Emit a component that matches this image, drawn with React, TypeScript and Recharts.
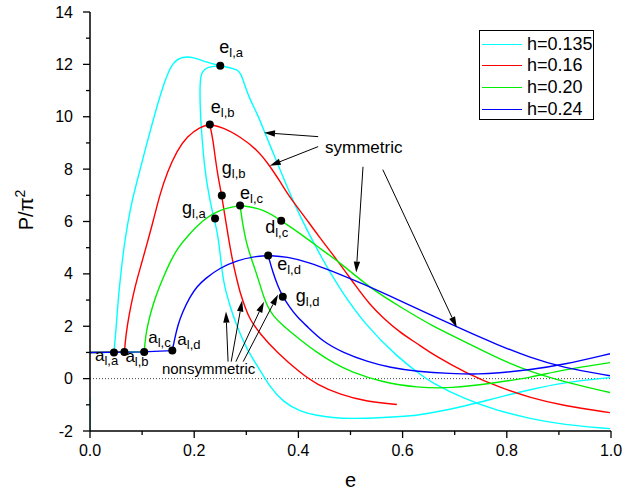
import React from "react";
import { ComposedChart, Line, XAxis, YAxis, ReferenceLine, ReferenceDot } from "recharts";

type Pt = [number, number];

// h = 0.135
const cyanFlat: Pt[] = [[0, 1.0], [0.046, 1.0]];
const cyanRise: Pt[] = [
  [0.046, 1.0], [0.05, 1.87], [0.054, 3.02], [0.06, 4.16], [0.067, 5.31], [0.077, 6.45],
  [0.086, 7.22], [0.106, 8.74], [0.125, 10.16], [0.144, 11.42], [0.159, 12.1], [0.178, 12.3],
  [0.198, 12.28], [0.225, 12.07], [0.25, 11.95],
];
const cyanSym: Pt[] = [
  [0.25, 11.95], [0.269, 11.87], [0.282, 11.8], [0.29, 11.65], [0.296, 11.26], [0.307, 10.65],
  [0.321, 10.12], [0.334, 9.47], [0.349, 8.74], [0.365, 7.98], [0.378, 7.33], [0.403, 6.19],
  [0.441, 4.73], [0.48, 3.4], [0.528, 2.06], [0.589, 0.84], [0.639, 0.08], [0.653, -0.11],
  [0.716, -0.76], [0.781, -1.22], [0.845, -1.53], [0.908, -1.76], [0.998, -1.91],
];
const cyanNonsym: Pt[] = [
  [0.25, 11.95], [0.225, 11.91], [0.215, 11.72], [0.211, 11.42], [0.211, 10.39], [0.215, 9.13],
  [0.221, 7.87], [0.228, 7.03], [0.236, 6.26], [0.246, 5.5], [0.253, 4.16], [0.257, 3.67],
  [0.261, 3.32], [0.269, 2.75], [0.282, 1.99], [0.301, 1.11], [0.326, 0.34], [0.345, -0.31],
  [0.37, -0.88], [0.403, -1.26], [0.436, -1.41], [0.466, -1.49], [0.499, -1.53], [0.562, -1.49],
  [0.628, -1.41], [0.653, -1.31], [0.716, -1.07], [0.781, -0.73], [0.845, -0.42], [0.908, -0.15],
  [0.998, 0.04],
];
const cyanEdge: Pt[] = [[0, -0.7], [0, -2]];

// h = 0.16
const redFlat: Pt[] = [[0, 1.0], [0.066, 1.02]];
const redRise: Pt[] = [
  [0.066, 1.02], [0.069, 1.68], [0.075, 2.44], [0.083, 3.21], [0.09, 3.78], [0.1, 4.47],
  [0.109, 5.12], [0.121, 5.99], [0.134, 7.03], [0.148, 7.87], [0.167, 8.71], [0.186, 9.24],
  [0.211, 9.62], [0.23, 9.7],
];
const redSym: Pt[] = [
  [0.23, 9.7], [0.255, 9.6], [0.288, 9.24], [0.321, 8.74], [0.345, 8.13], [0.365, 7.52],
  [0.384, 6.91], [0.409, 6.26], [0.441, 5.38], [0.474, 4.54], [0.511, 3.51], [0.537, 2.83],
  [0.562, 2.33], [0.595, 1.76], [0.628, 1.34], [0.658, 0.92], [0.724, 0.19], [0.787, -0.34],
  [0.845, -0.73], [0.908, -1.03], [0.998, -1.3],
];
const redNonsym: Pt[] = [
  [0.23, 9.7], [0.236, 9.13], [0.24, 8.48], [0.246, 7.67], [0.253, 6.99], [0.263, 5.69],
  [0.274, 4.43], [0.282, 3.78], [0.288, 3.28], [0.298, 2.71], [0.307, 2.25], [0.326, 1.72],
  [0.359, 0.99], [0.403, 0.23], [0.436, -0.23], [0.48, -0.61], [0.532, -0.88], [0.589, -0.99],
];

// h = 0.20
const greenFlat: Pt[] = [[0, 1.0], [0.104, 1.02]];
const greenRise: Pt[] = [
  [0.104, 1.02], [0.107, 1.68], [0.113, 2.25], [0.121, 2.83], [0.131, 3.4],
  [0.142, 3.93], [0.154, 4.47], [0.169, 5.0], [0.186, 5.42], [0.217, 6.07], [0.25, 6.47],
  [0.288, 6.61],
];
const greenSym: Pt[] = [
  [0.288, 6.61], [0.332, 6.49], [0.367, 6.03], [0.409, 5.46], [0.447, 4.89], [0.48, 4.43],
  [0.541, 3.4], [0.595, 2.75], [0.658, 1.99], [0.724, 1.37], [0.787, 0.73], [0.85, 0.23],
  [0.916, -0.15], [0.998, -0.53],
];
const greenNonsym: Pt[] = [
  [0.288, 6.61], [0.294, 5.77], [0.301, 5.12], [0.309, 4.62], [0.319, 4.05], [0.328, 3.47],
  [0.334, 3.09], [0.342, 2.71], [0.351, 2.41], [0.37, 2.02], [0.403, 1.49], [0.436, 0.99],
  [0.466, 0.61], [0.499, 0.27], [0.562, -0.15], [0.628, -0.34], [0.691, -0.38], [0.781, -0.15],
  [0.845, 0.04], [0.908, 0.34], [0.998, 0.61],
];

// h = 0.24
const blueFlat: Pt[] = [[0, 1.0], [0.1, 1.02], [0.158, 1.07]];
const blueRise: Pt[] = [
  [0.158, 1.07], [0.163, 1.57], [0.169, 2.06], [0.177, 2.52],
  [0.192, 3.13], [0.205, 3.51], [0.221, 3.82], [0.25, 4.24], [0.282, 4.51], [0.313, 4.66],
  [0.342, 4.7],
];
const blueSym: Pt[] = [
  [0.342, 4.7], [0.378, 4.66], [0.422, 4.43], [0.466, 4.09], [0.499, 3.82], [0.541, 3.47],
  [0.595, 2.98], [0.653, 2.44], [0.716, 1.87], [0.781, 1.3], [0.845, 0.8], [0.908, 0.42],
  [0.998, 0.11],
];
const blueNonsym: Pt[] = [
  [0.342, 4.7], [0.351, 4.05], [0.361, 3.51], [0.37, 3.13], [0.384, 2.71], [0.397, 2.37],
  [0.417, 1.99], [0.447, 1.41], [0.486, 0.99], [0.532, 0.65], [0.576, 0.42], [0.628, 0.27],
  [0.691, 0.19], [0.749, 0.17], [0.781, 0.21], [0.845, 0.34], [0.908, 0.53], [0.998, 0.95],
];

const hNames = ["h=0.135", "h=0.16", "h=0.20", "h=0.24"];
const hColors = ["#00ffff", "#ff0000", "#00ee00", "#0000ff"];

// marked points: [x, P/pi^2]
const markerNames = ["a|l,a", "a|l,b", "a|l,c", "a|l,d", "e|l,a", "e|l,b", "g|l,b", "e|l,c", "g|l,a", "d|l,c", "e|l,d", "g|l,d"];
const markerX = [0.046, 0.066, 0.104, 0.158, 0.25, 0.23, 0.253, 0.288, 0.24, 0.367, 0.342, 0.37];
const markerY = [1.0, 1.02, 1.02, 1.07, 11.95, 9.7, 6.99, 6.61, 6.11, 6.03, 4.7, 3.13];

const xTicks = [0, 0.1, 0.2, 0.3, 0.4, 0.5, 0.6, 0.7, 0.8, 0.9, 1.0];
const yTicks = [-2, -1, 0, 1, 2, 3, 4, 5, 6, 7, 8, 9, 10, 11, 12, 13, 14];

// label placement (pixel offsets from the dot: left edge, baseline)
const labelOffsets: Pt[] = [[-19, 9], [1, 10], [4, -9], [5, -6], [-1, -13], [1, -12], [0, -22], [0, -7], [-33, -5], [-16, 12], [9, 14], [13, 5]];

// annotation arrows [tailX, tailY, tipX, tipY] in data units
const arrows = [
  [0.438, 9.24, 0.334, 9.39],
  [0.438, 8.86, 0.345, 8.13],
  [0.524, 8.09, 0.511, 4.05],
  [0.562, 7.98, 0.704, 1.95],
  [0.265, 0.65, 0.261, 2.56],
  [0.271, 0.65, 0.292, 2.98],
  [0.28, 0.65, 0.334, 2.94],
  [0.294, 0.65, 0.361, 3.21],
];

const FONT = '"Liberation Sans", Arial, Helvetica, sans-serif';

const series = [
  { color: hColors[0], flat: [cyanFlat, cyanEdge], curves: [cyanRise, cyanSym, cyanNonsym] },
  { color: hColors[1], flat: [redFlat], curves: [redRise, redSym, redNonsym] },
  { color: hColors[2], flat: [greenFlat], curves: [greenRise, greenSym, greenNonsym] },
  { color: hColors[3], flat: [blueFlat], curves: [blueRise, blueSym, blueNonsym] },
];

const XTick = (props: any) => {
  const { x, y, payload } = props;
  const v = payload.value as number;
  const major = Math.round(v * 10) % 2 === 0;
  return (
    <g>
      <line x1={x} y1={y} x2={x} y2={y + (major ? 7 : 4)} stroke="#000" strokeWidth={1.3} />
      {major && (
        <text x={x} y={y + 25} textAnchor="middle" fontSize={16} fontFamily={FONT} fill="#000">
          {v.toFixed(1)}
        </text>
      )}
    </g>
  );
};

const YTick = (props: any) => {
  const { x, y, payload } = props;
  const v = payload.value as number;
  const major = v % 2 === 0;
  return (
    <g>
      <line x1={x} y1={y} x2={x - (major ? 7 : 4)} y2={y} stroke="#000" strokeWidth={1.3} />
      {major && (
        <text x={x - 17} y={y} dy="0.35em" textAnchor="end" fontSize={16} fontFamily={FONT} fill="#000">
          {v}
        </text>
      )}
    </g>
  );
};

const arrowShape = (p: any) => {
  const { x1, y1, x2, y2 } = p;
  const ang = Math.atan2(y2 - y1, x2 - x1);
  const len = 11;
  const w = 3.2;
  const bx = x2 - len * Math.cos(ang);
  const by = y2 - len * Math.sin(ang);
  const nx = -Math.sin(ang) * w;
  const ny = Math.cos(ang) * w;
  return (
    <g>
      <line x1={x1} y1={y1} x2={bx} y2={by} stroke="#000" strokeWidth={1} />
      <polygon points={`${x2},${y2} ${bx + nx},${by + ny} ${bx - nx},${by - ny}`} fill="#000" />
    </g>
  );
};

const markerShape = (i: number) => (p: any) => {
  const { cx, cy } = p;
  const [main, sub] = markerNames[i].split("|");
  const [dx, dy] = labelOffsets[i];
  const isA = main === "a";
  const big = isA ? 17 : 18;
  const small = isA ? 13 : 13;
  return (
    <g>
      <circle cx={cx} cy={cy} r={4} fill="#000" />
      <text x={cx + dx} y={cy + dy} fontSize={big} fontFamily={FONT} fill="#000">
        {main}
        <tspan fontSize={small} dy={4}>{sub}</tspan>
      </text>
    </g>
  );
};

const noteShape = (text: string, size: number) => (p: any) => (
  <text x={p.cx} y={p.cy} fontSize={size} fontFamily={FONT} fill="#000">
    {text}
  </text>
);

const toRows = (pts: Pt[]) => pts.map(([x, y]) => ({ x, y }));

export default function App() {
  return (
    <div style={{ position: "absolute", left: 0, top: 0, width: 623, height: 498, background: "#fff" }}>
      <ComposedChart width={623} height={498} margin={{ top: 12, right: 12, bottom: 27, left: 0 }}>
        <XAxis
          type="number"
          dataKey="x"
          domain={[0, 1]}
          ticks={xTicks}
          interval={0}
          allowDataOverflow
          tickSize={0}
          tickMargin={0}
          tickLine={false}
          tick={<XTick />}
          height={40}
          axisLine={{ stroke: "#000", strokeWidth: 1.5 }}
          label={(p: any) => {
            const vb = p.viewBox || { x: 90, y: 431, width: 521 };
            return (
              <text x={vb.x + vb.width / 2} y={vb.y + 56} textAnchor="middle" fontSize={20} fontFamily={FONT} fill="#000">
                e
              </text>
            );
          }}
        />
        <YAxis
          type="number"
          dataKey="y"
          domain={[-2, 14]}
          ticks={yTicks}
          interval={0}
          allowDataOverflow
          tickSize={0}
          tickMargin={0}
          tickLine={false}
          tick={<YTick />}
          width={90}
          axisLine={{ stroke: "#000", strokeWidth: 1.5 }}
          label={() => (
            <text x={33} y={210} transform="rotate(-90, 33, 210)" textAnchor="middle" fontSize={20} fontFamily={FONT} fill="#000">
              P/π<tspan fontSize={14} dy={-8}>2</tspan>
            </text>
          )}
        />
        <ReferenceLine y={0} stroke="#444" strokeDasharray="1 2" strokeWidth={1} />
        {series.map((s, si) => [
          ...s.flat.map((part, pi) => (
            <Line
              key={`f-${si}-${pi}`}
              data={toRows(part)}
              dataKey="y"
              type="linear"
              stroke={s.color}
              strokeWidth={1.4}
              dot={false}
              activeDot={false}
              isAnimationActive={false}
              legendType="none"
            />
          )),
          ...s.curves.map((part, pi) => (
            <Line
              key={`c-${si}-${pi}`}
              data={toRows(part)}
              dataKey="y"
              type="basis"
              stroke={s.color}
              strokeWidth={1.4}
              dot={false}
              activeDot={false}
              isAnimationActive={false}
              legendType="none"
            />
          )),
        ])}
        {arrows.map((a, i) => (
          <ReferenceLine
            key={`a-${i}`}
            segment={[{ x: a[0], y: a[1] }, { x: a[2], y: a[3] }]}
            shape={arrowShape}
            ifOverflow="visible"
          />
        ))}
        <ReferenceDot x={0.451} y={8.63} r={1} ifOverflow="visible" shape={noteShape("symmetric", 17)} />
        <ReferenceDot x={0.138} y={0.19} r={1} ifOverflow="visible" shape={noteShape("nonsymmetric", 15)} />
        {markerX.map((mx, i) => (
          <ReferenceDot key={`m-${i}`} x={mx} y={markerY[i]} r={4} ifOverflow="visible" shape={markerShape(i)} />
        ))}
      </ComposedChart>
      <div
        style={{
          position: "absolute",
          left: 479,
          top: 30,
          width: 115,
          height: 90,
          border: "1px solid #000",
          boxSizing: "border-box",
          background: "#fff",
          fontFamily: FONT,
          fontSize: 18,
          color: "#000",
        }}
      >
        {hNames.map((n, i) => (
          <div
            key={n}
            style={{ position: "absolute", left: 2, top: 2 + i * 21.7, height: 22, display: "flex", alignItems: "center", whiteSpace: "nowrap" }}
          >
            <span style={{ display: "inline-block", width: 40, borderTop: `1.5px solid ${hColors[i]}`, marginRight: 5 }} />
            <span>{n}</span>
          </div>
        ))}
      </div>
    </div>
  );
}
